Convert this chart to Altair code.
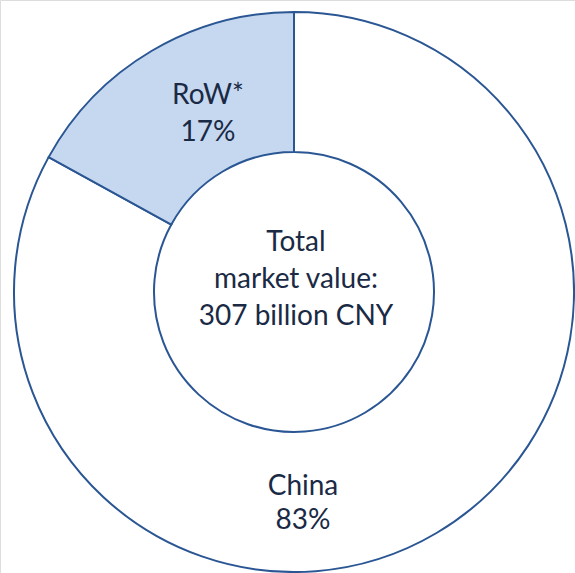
import altair as alt
import pandas as pd

# data
categories = ["China", "RoW*"]
shares = [83, 17]
slice_labels = ["China\n83%", "RoW*\n17%"]
center_label = "Total\nmarket value:\n307 billion CNY"

df = pd.DataFrame({"region": categories, "share": shares})

STROKE = "#2a5694"
TEXT = "#1a2a45"
FONT = "Lato"
FS = 28

base = alt.Chart(df)

donut = base.mark_arc(
    outerRadius=280, innerRadius=140, stroke=STROKE, strokeWidth=2
).encode(
    theta=alt.Theta("share:Q", stack=True),
    color=alt.Color(
        "region:N",
        scale=alt.Scale(domain=categories, range=["#ffffff", "#c6d8ef"]),
        legend=None,
    ),
    x=alt.value(294),
    y=alt.value(292),
)

def label(text, x, y, lh):
    return alt.Chart(pd.DataFrame({"t": [text]})).mark_text(
        font=FONT, fontSize=FS, color=TEXT, align="center",
        baseline="middle", lineBreak="\n", lineHeight=lh,
    ).encode(text="t:N", x=alt.value(x), y=alt.value(y))

chart = alt.layer(
    donut,
    label(slice_labels[1], 208, 96, 37),
    label(slice_labels[0], 303, 487, 34),
    label(center_label, 296, 243, 37),
).properties(
    width=575, height=573, padding=0,
    autosize=alt.AutoSizeParams(type="none"),
).configure_view(stroke=None).configure(background="white")

chart.save("out.html", embed_options={"renderer": "svg", "actions": False})
